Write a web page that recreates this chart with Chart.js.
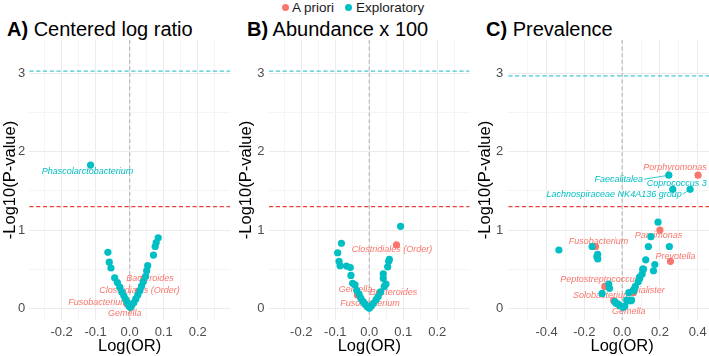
<!DOCTYPE html>
<html><head><meta charset="utf-8">
<script src="https://cdn.jsdelivr.net/npm/chart.js@4/dist/chart.umd.min.js"></script>
<style>
html,body{margin:0;padding:0;background:#fff}
body{width:709px;height:356px;overflow:hidden;position:relative;font-family:"Liberation Sans",Arial,Helvetica,sans-serif;color:#000}
canvas{position:absolute;top:0}
.ttl{position:absolute;top:17px;font-size:20px;line-height:24px;white-space:nowrap;color:#000}
.ttl b{font-weight:bold}
.lg{position:absolute;top:0;font-size:13.5px;line-height:15px;white-space:nowrap;color:#1a1a1a}
.dot{position:absolute;width:7px;height:7px;border-radius:50%}
</style></head><body>
<span class="dot" style="left:281.5px;top:3.5px;background:#F8766D"></span>
<span class="lg" id="lg1" style="left:292px"></span>
<span class="dot" style="left:345px;top:3.5px;background:#00BFC4"></span>
<span class="lg" id="lg2" style="left:356px"></span>
<div class="ttl" style="left:7px"><b>A)</b> <span id="t1"></span></div>
<div class="ttl" style="left:247px"><b>B)</b> <span id="t2"></span></div>
<div class="ttl" style="left:486px"><b>C)</b> <span id="t3"></span></div>
<canvas id="cA" width="236" height="356" style="left:0px"></canvas>
<canvas id="cB" width="240" height="356" style="left:236px"></canvas>
<canvas id="cC" width="270" height="356" style="left:470px"></canvas>
<script>
// ---------------- data ----------------
const seriesNames = ["A priori", "Exploratory"];
const panelTitles = ["Centered log ratio", "Abundance x 100", "Prevalence"];
const xAxisTitle = "Log(OR)";
const yAxisTitle = "-Log10(P-value)";
const yBreaks = [0, 1, 2, 3];
const xBreaksAB = [-0.2, -0.1, 0, 0.1, 0.2];
const xBreaksC = [-0.4, -0.2, 0, 0.2, 0.4];
const nominalThreshold = 1.3;            // -log10(0.05)
const correctedThreshold = [3.03, 3.03, 2.97];

// Panel A: centered log ratio
const clrExploratory = [
  [-0.115,1.83],
  [-0.064,0.715],[-0.060,0.59],[-0.055,0.515],[-0.044,0.39],[-0.036,0.33],[-0.029,0.27],
  [-0.023,0.21],[-0.017,0.16],[-0.012,0.115],[-0.007,0.07],[-0.002,0.03],[0.002,0.013],
  [0.084,0.90],[0.078,0.84],[0.075,0.79],[0.070,0.68],[0.053,0.545],[0.050,0.48],[0.047,0.41],
  [0.040,0.34],[0.035,0.285],[0.030,0.225],[0.024,0.17],[0.018,0.12],[0.012,0.07],[0.006,0.04]
];
const clrExploratoryNames = ["Phascolarctobacterium"];
const clrApriori = [[0.042,0.38],[0.026,0.22],[-0.008,0.06],[0.003,0.015]];
const clrAprioriNames = ["Bacteroides","Clostridiales (Order)","Fusobacterium","Gemella"];

// Panel B: abundance x 100
const abuExploratory = [
  [0.092,1.047],
  [-0.082,0.83],[-0.093,0.71],[-0.089,0.60],[-0.086,0.545],[-0.067,0.54],[-0.056,0.52],
  [-0.054,0.42],[-0.049,0.32],[-0.042,0.30],[-0.037,0.23],[-0.030,0.18],[-0.025,0.13],
  [-0.018,0.085],[-0.012,0.05],[-0.006,0.02],[0.0,0.0],
  [0.059,0.625],[0.057,0.60],[0.054,0.53],[0.041,0.44],[0.041,0.38],[0.049,0.31],[0.044,0.28],
  [0.033,0.21],[0.026,0.15],[0.020,0.11],[0.012,0.064],[0.006,0.03]
];
const abuExploratoryNames = [];
const abuApriori = [[0.080,0.81],[-0.035,0.17],[0.030,0.20],[0.002,0.03]];
const abuAprioriNames = ["Clostridiales (Order)","Gemella","Bacteroides","Fusobacterium"];

// Panel C: prevalence
const prvExploratory = [
  [0.247,1.70],[0.268,1.52],[0.360,1.52],
  [0.19,1.10],[0.152,0.915],[0.25,0.79],[0.139,0.79],[0.173,0.56],[0.166,0.48],[0.125,0.62],
  [0.113,0.50],[0.109,0.50],[0.106,0.44],[0.093,0.38],[0.092,0.40],[0.085,0.34],[0.07,0.28],
  [0.062,0.225],[0.061,0.24],[0.035,0.20],[0.024,0.106],[0.05,0.106],[0.046,0.098],[0.035,0.098],
  [0.014,0.03],[0.004,0.013],[-0.012,0.034],[-0.021,0.055],[-0.032,0.064],[-0.039,0.085],
  [-0.335,0.745],[-0.159,0.79],[-0.13,0.69],[-0.134,0.66],[-0.129,0.63],
  [-0.071,0.31],[-0.067,0.255],[-0.106,0.19]
];
const prvExploratoryNames = ["Faecalitalea","Coprococcus 3","Lachnospiraceae NK4A136 group"];
const prvApriori = [[0.402,1.70],[0.20,1.00],[0.256,0.60],[-0.141,0.79],[-0.092,0.28],[-0.045,0.10],[0.06,0.20],[0.008,0.02]];
const prvAprioriNames = ["Porphyromonas","Parvimonas","Prevotella","Fusobacterium","Peptostreptococcus","Solobacterium","Dialister","Gemella"];

// ---------------- label placement (pixel nudges, repel-like) ----------------
const nudgeA = {"Phascolarctobacterium":[-3,6],"Bacteroides":[6,0],"Clostridiales (Order)":[1,-1],"Fusobacterium":[-29,-1],"Gemella":[-6,6]};
const nudgeB = {"Clostridiales (Order)":[-4.5,4.5],"Gemella":[-2,-6],"Bacteroides":[14,0],"Fusobacterium":[0,-2]};
const nudgeC = {"Porphyromonas":[-23,-8],"Parvimonas":[-1.5,5.7],"Prevotella":[5,-4.6],"Fusobacterium":[3,-5],
  "Peptostreptococcus":[-5,-6.5],"Solobacterium":[-12,-5],"Dialister":[15,-2],"Gemella":[5,5],
  "Faecalitalea":[-50,4,true],"Coprococcus 3":[4,-6],"Lachnospiraceae NK4A136 group":[-76,5,true]};

// ---------------- drawing ----------------
const COL_AP = "#F8766D", COL_EX = "#00BFC4";
const FONT = '"Liberation Sans", Arial, Helvetica, sans-serif';
document.getElementById('lg1').textContent = seriesNames[0];
document.getElementById('lg2').textContent = seriesNames[1];
document.getElementById('t1').textContent = panelTitles[0];
document.getElementById('t2').textContent = panelTitles[1];
document.getElementById('t3').textContent = panelTitles[2];

const refPlugin = {
  id: 'refs',
  beforeDatasetsDraw(chart, args, o) {
    const {ctx, chartArea: a, scales: {x, y}} = chart;
    ctx.save();
    ctx.beginPath(); ctx.rect(a.left, a.top, a.right - a.left, a.bottom - a.top); ctx.clip();
    ctx.lineWidth = 1.3;
    // vertical zero line
    ctx.strokeStyle = '#BDBDBD'; ctx.setLineDash([4, 2.6]);
    const x0 = x.getPixelForValue(0);
    ctx.beginPath(); ctx.moveTo(x0, a.top); ctx.lineTo(x0, a.bottom); ctx.stroke();
    // thresholds
    ctx.setLineDash([4.2, 2.6]);
    ctx.strokeStyle = '#E8413A';
    let yy = y.getPixelForValue(o.nominal);
    ctx.beginPath(); ctx.moveTo(a.left, yy); ctx.lineTo(a.right, yy); ctx.stroke();
    ctx.strokeStyle = '#45C9CF';
    yy = y.getPixelForValue(o.corrected);
    ctx.beginPath(); ctx.moveTo(a.left, yy); ctx.lineTo(a.right, yy); ctx.stroke();
    ctx.restore();
    // labels (under points)
    ctx.save();
    ctx.font = 'italic 9px ' + FONT;
    ctx.textAlign = 'center'; ctx.textBaseline = 'middle';
    for (const L of o.labels) {
      const n = o.nudge[L.name]; if (!n) continue;
      const px = x.getPixelForValue(L.x), py = y.getPixelForValue(L.y);
      const lx = px + n[0], ly = py + n[1];
      ctx.fillStyle = L.color; ctx.strokeStyle = L.color;
      if (n[2]) {
        const w = ctx.measureText(L.name).width;
        const sx = lx + (px > lx ? w / 2 + 1 : -w / 2 - 1);
        ctx.lineWidth = 0.8; ctx.setLineDash([]);
        ctx.beginPath(); ctx.moveTo(sx, ly); ctx.lineTo(px, py); ctx.stroke();
      }
      ctx.fillText(L.name, lx, ly);
    }
    ctx.restore();
  }
};

function fmt1(v) { return (Math.abs(v) < 1e-9 ? 0 : v).toFixed(1); }

function makePanel(id, cfg) {
  const isMajor = (arr, v) => arr.some(b => Math.abs(b - v) < 1e-9);
  const labels = [];
  cfg.apNames.forEach((nm, i) => labels.push({name: nm, x: cfg.ap[i][0], y: cfg.ap[i][1], color: COL_AP}));
  cfg.exNames.forEach((nm, i) => labels.push({name: nm, x: cfg.ex[i][0], y: cfg.ex[i][1], color: COL_EX}));
  new Chart(document.getElementById(id), {
    type: 'scatter',
    data: {datasets: [
      {label: seriesNames[1], data: cfg.ex.map(([x, y]) => ({x, y})), backgroundColor: COL_EX, borderColor: COL_EX, borderWidth: 0, pointRadius: 3.6, order: 0},
      {label: seriesNames[0], data: cfg.ap.map(([x, y]) => ({x, y})), backgroundColor: COL_AP, borderColor: COL_AP, borderWidth: 0, pointRadius: 3.6, order: 1}
    ]},
    options: {
      responsive: false, animation: false, events: [],
      layout: {padding: {top: 40, right: cfg.padRight, left: 0, bottom: 0}},
      plugins: {legend: {display: false}, tooltip: {enabled: false},
        refs: {nominal: nominalThreshold, corrected: cfg.corrected, labels, nudge: cfg.nudge}},
      scales: {
        x: {type: 'linear', min: cfg.xmin, max: cfg.xmax,
          afterBuildTicks: s => { s.ticks = cfg.xGrid.map(v => ({value: v})); },
          afterFit: s => { s.height = 36; },
          border: {display: false},
          grid: {drawTicks: false, color: c => isMajor(cfg.xBreaks, c.tick.value) ? '#EBEBEB' : '#F4F4F4', lineWidth: 1},
          ticks: {autoSkip: false, maxRotation: 0, padding: 5, color: '#4D4D4D', font: {family: FONT, size: 13},
            callback: v => isMajor(cfg.xBreaks, v) ? fmt1(v) : ''},
          title: {display: true, text: xAxisTitle, color: '#000', font: {family: FONT, size: 16.5}, padding: {top: 0, bottom: 0}}
        },
        y: {type: 'linear', min: -0.149, max: 3.427,
          afterBuildTicks: s => { s.ticks = [0, 0.5, 1, 1.5, 2, 2.5, 3].map(v => ({value: v})); },
          afterFit: s => { s.width = cfg.yWidth; },
          border: {display: false},
          grid: {drawTicks: false, color: c => isMajor(yBreaks, c.tick.value) ? '#EBEBEB' : '#F4F4F4', lineWidth: 1},
          ticks: {autoSkip: false, padding: cfg.yTickPad, color: '#4D4D4D', font: {family: FONT, size: 13},
            callback: v => isMajor(yBreaks, v) ? String(v) : ''},
          title: {display: true, text: yAxisTitle, color: '#000', font: {family: FONT, size: 16.5}, padding: {top: cfg.yTitlePad, bottom: 0}}
        }
      }
    },
    plugins: [refPlugin]
  });
}

makePanel('cA', {ex: clrExploratory, exNames: clrExploratoryNames, ap: clrApriori, apNames: clrAprioriNames,
  nudge: nudgeA, corrected: correctedThreshold[0], xmin: -0.295, xmax: 0.295, xBreaks: xBreaksAB,
  xGrid: [-0.25,-0.2,-0.15,-0.1,-0.05,0,0.05,0.1,0.15,0.2,0.25], padRight: 6, yWidth: 29.3, yTickPad: 4, yTitlePad: 0.5});
makePanel('cB', {ex: abuExploratory, exNames: abuExploratoryNames, ap: abuApriori, apNames: abuAprioriNames,
  nudge: nudgeB, corrected: correctedThreshold[1], xmin: -0.295, xmax: 0.295, xBreaks: xBreaksAB,
  xGrid: [-0.25,-0.2,-0.15,-0.1,-0.05,0,0.05,0.1,0.15,0.2,0.25], padRight: 6.4, yWidth: 33, yTickPad: 4.5, yTitlePad: 0.5});
makePanel('cC', {ex: prvExploratory, exNames: prvExploratoryNames, ap: prvApriori, apNames: prvAprioriNames,
  nudge: nudgeC, corrected: correctedThreshold[2], xmin: -0.603, xmax: 0.603, xBreaks: xBreaksC,
  xGrid: [-0.5,-0.4,-0.3,-0.2,-0.1,0,0.1,0.2,0.3,0.4,0.5], padRight: 3, yWidth: 38.3, yTickPad: 5, yTitlePad: 5.4});
</script>
</body></html>
